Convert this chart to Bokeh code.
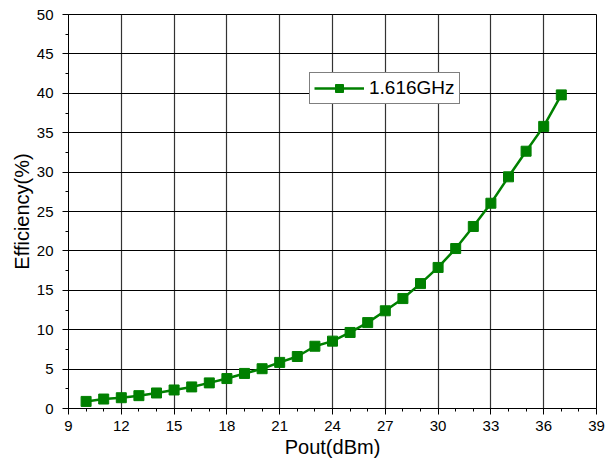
from bokeh.plotting import figure
from bokeh.models import Range1d, FixedTicker, Legend, LegendItem
from bokeh.embed import file_html
from bokeh.resources import INLINE

pout_dbm = [10, 11, 12, 13, 14, 15, 16, 17, 18, 19, 20, 21, 22, 23, 24, 25, 26, 27, 28,
            29, 30, 31, 32, 33, 34, 35, 36, 37]
efficiency = [0.9, 1.2, 1.37, 1.63, 1.97, 2.35, 2.74, 3.25, 3.8, 4.45, 5.05, 5.85, 6.6,
              7.9, 8.55, 9.65, 10.9, 12.4, 13.95, 15.85, 17.9, 20.3, 23.1, 26.05, 29.4,
              32.65, 35.8, 39.8]
x_ticks = [9, 12, 15, 18, 21, 24, 27, 30, 33, 36, 39]
y_ticks = [0, 5, 10, 15, 20, 25, 30, 35, 40, 45, 50]
series_name = "1.616GHz"

FONT = "Liberation Sans"
GREEN = "#008000"

p = figure(width=614, height=463, output_backend="svg", toolbar_location=None,
           x_range=Range1d(9, 39), y_range=Range1d(0, 50),
           min_border_left=68, min_border_right=18, min_border_top=14, min_border_bottom=55)

p.outline_line_color = "black"
p.outline_line_width = 1
p.background_fill_color = "white"
p.border_fill_color = "white"

for ax, ticks, nminor in ((p.xaxis[0], x_ticks, 3), (p.yaxis[0], y_ticks, 2)):
    ax.ticker = FixedTicker(ticks=ticks,
                            minor_ticks=[t for t in range(0, 60) if t not in ticks] if nminor == 3
                            else [t + 2.5 for t in ticks[:-1]])
    ax.major_tick_out = 6
    ax.major_tick_in = 0
    ax.minor_tick_out = 3
    ax.minor_tick_in = 0
    ax.axis_line_color = "black"
    ax.major_tick_line_color = "black"
    ax.minor_tick_line_color = "black"
    ax.major_label_text_font = FONT
    ax.major_label_text_font_size = "15px"
    ax.major_label_text_color = "black"
    ax.axis_label_text_font = FONT
    ax.axis_label_text_font_size = "20px"
    ax.axis_label_text_font_style = "normal"
    ax.axis_label_text_color = "black"

p.xaxis[0].axis_label = "Pout(dBm)"
p.xaxis[0].major_label_standoff = 6
p.xaxis[0].axis_label_standoff = 2
p.yaxis[0].axis_label = "Efficiency(%)"
p.yaxis[0].major_label_standoff = 9
p.yaxis[0].axis_label_standoff = 1

p.xgrid.grid_line_color = "#333333"
p.ygrid.grid_line_color = "black"
p.xgrid.grid_line_width = 1.2
p.ygrid.grid_line_width = 1

line = p.line(pout_dbm, efficiency, line_color=GREEN, line_width=2.5)
pts = p.scatter(pout_dbm, efficiency, marker="square", size=10, fill_color=GREEN,
                line_color=GREEN)

legend = Legend(items=[LegendItem(label=series_name, renderers=[line, pts])],
                location=(241, 304), orientation="vertical")
legend.label_text_font = FONT
legend.label_text_font_size = "19px"
legend.label_text_color = "black"
legend.border_line_color = "black"
legend.border_line_width = 1
legend.background_fill_color = "white"
legend.background_fill_alpha = 1
legend.glyph_width = 50
legend.glyph_height = 20
legend.label_height = 20
legend.label_standoff = 5
legend.padding = 4
legend.margin = 0
legend.spacing = 0
p.add_layout(legend, "center")

open("out.html", "w").write(file_html(p, INLINE))
